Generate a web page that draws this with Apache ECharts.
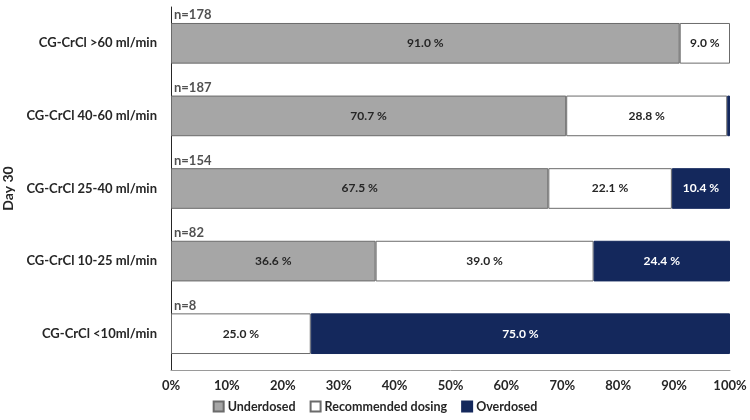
<!DOCTYPE html>
<html><head><meta charset="utf-8">
<script src="https://cdn.jsdelivr.net/npm/echarts@6/dist/echarts.min.js"></script>
<style>html,body{margin:0;padding:0;background:#fff}#c{width:750px;height:420px}</style>
</head><body><div id="c"></div>
<script>
const categories = ['CG-CrCl >60 ml/min','CG-CrCl 40-60 ml/min','CG-CrCl 25-40 ml/min','CG-CrCl 10-25 ml/min','CG-CrCl <10ml/min'];
const nLabels = ['n=178','n=187','n=154','n=82','n=8'];
const underdosed = [91.0, 70.7, 67.5, 36.6, 0];
const recommended = [9.0, 28.8, 22.1, 39.0, 25.0];
const overdosed = [0, 0.5, 10.4, 24.4, 75.0];
const seriesNames = ['Underdosed','Recommended dosing','Overdosed'];

const FONT = 'Lato';
const chart = echarts.init(document.getElementById('c'));
const nz = arr => arr.map(v => v === 0 ? null : v);
function lbl(color){
  return {show:true, position:'inside', color:color, fontFamily:FONT, fontWeight:'bold', fontSize:12,
    formatter:p => p.value >= 1 ? p.value.toFixed(1) + ' %' : ''};
}
const barBase = {type:'bar', stack:'s', barCategoryGap:'44%'};
chart.setOption({
  animation:false,
  textStyle:{fontFamily:FONT},
  grid:{left:171, right:20, top:7, bottom:50, containLabel:false, outerBoundsMode:'none'},
  legend:{bottom:2, left:'center', itemWidth:10, itemHeight:10, itemGap:14, icon:'rect',
    textStyle:{fontFamily:FONT, fontWeight:'bold', fontSize:12.5, color:'#262626', padding:[0,0,0,-1]},
    data:seriesNames},
  xAxis:{type:'value', min:0, max:100, interval:10,
    axisLabel:{formatter:'{value}%', fontFamily:FONT, fontWeight:'bold', fontSize:13, color:'#262626', margin:9},
    axisLine:{show:true, lineStyle:{color:'#9a9a9a'}}, axisTick:{show:false}, splitLine:{show:false}},
  yAxis:{type:'category', data:categories, inverse:true,
    name:'Day 30', nameLocation:'middle', nameGap:153, nameRotate:90,
    nameTextStyle:{fontFamily:FONT, fontWeight:'bold', fontSize:14, color:'#262626'},
    axisLine:{show:true, lineStyle:{color:'#262626'}}, axisTick:{show:false},
    axisLabel:{fontFamily:FONT, fontWeight:'bold', fontSize:13, color:'#262626', margin:14}},
  series:[
    Object.assign({}, barBase, {name:seriesNames[0], data:nz(underdosed), itemStyle:{color:'#a6a6a6', borderColor:'#6b6b6b', borderWidth:1}, label:lbl('#262626')}),
    Object.assign({}, barBase, {name:seriesNames[1], data:nz(recommended), itemStyle:{color:'#ffffff', borderColor:'#6b6b6b', borderWidth:1}, label:lbl('#262626')}),
    Object.assign({}, barBase, {name:seriesNames[2], data:nz(overdosed), itemStyle:{color:'#14285c', borderColor:'#14285c', borderWidth:1}, label:lbl('#ffffff')}),
    {type:'scatter', name:'n', symbolSize:0, silent:true, data:categories.map((c,i)=>[0,c]),
      label:{show:true, position:'right', offset:[-2,-28], formatter:p=>nLabels[p.dataIndex],
        fontFamily:FONT, fontWeight:'bold', fontSize:13, color:'#262626'}}
  ]
});
</script></body></html>
